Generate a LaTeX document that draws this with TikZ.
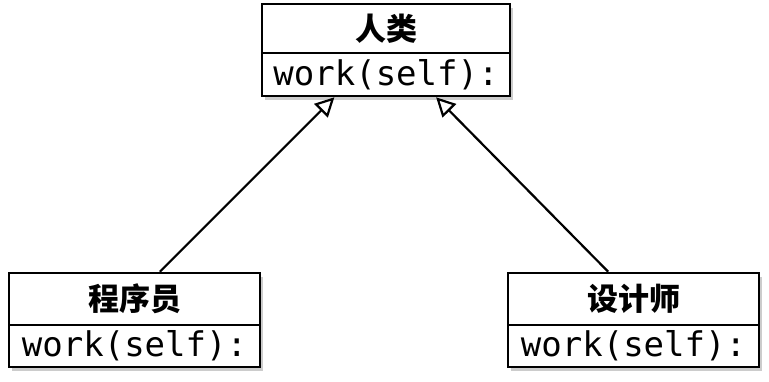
\documentclass[tikz,border=0pt]{standalone}
\usepackage{fontspec}
\setmonofont{DejaVu Sans Mono}
\newfontfamily\cjk{Noto Sans CJK SC}
\usetikzlibrary{arrows.meta,shadows,calc}
\tikzset{
  box/.style={draw=black, line width=2.6pt, fill=white, inner sep=0pt,
    drop shadow={opacity=0.4, shadow xshift=3pt, shadow yshift=-4pt}},
  headbox/.style={box, minimum height=#1, font=\cjk\bfseries\fontsize{31}{34}\selectfont},
  bodybox/.style={box, minimum height=#1, font=\ttfamily\fontsize{34}{38}\selectfont},
  inherit/.style={draw=black, line width=2.2pt, -{Triangle[open, length=19pt, width=19pt, line width=2.2pt]}}
}
\begin{document}
\begin{tikzpicture}[x=1pt,y=1pt]
\useasboundingbox (0,0) rectangle (769,381);
% top class
\node[headbox=49pt, minimum width=248pt] (th) at (386,352.5) {人类};
\node[bodybox=43pt, minimum width=248pt] (tb) at (386,306.5) {work(self):};
% left class
\node[headbox=52pt, minimum width=251pt] (lh) at (134.5,82) {程序员};
\node[bodybox=42pt, minimum width=251pt] (lb) at (134.5,35) {work(self):};
% right class
\node[headbox=52pt, minimum width=251pt] (rh) at (633.5,82) {设计师};
\node[bodybox=42pt, minimum width=251pt] (rb) at (633.5,35) {work(self):};
% inheritance
\draw[inherit] ($(lh.north west)!0.6!(lh.north east)$) -- ($(tb.south west)!0.294!(tb.south east)$);
\draw[inherit] ($(rh.north west)!0.4!(rh.north east)$) -- ($(tb.south west)!0.70!(tb.south east)$);
\end{tikzpicture}
\end{document}
